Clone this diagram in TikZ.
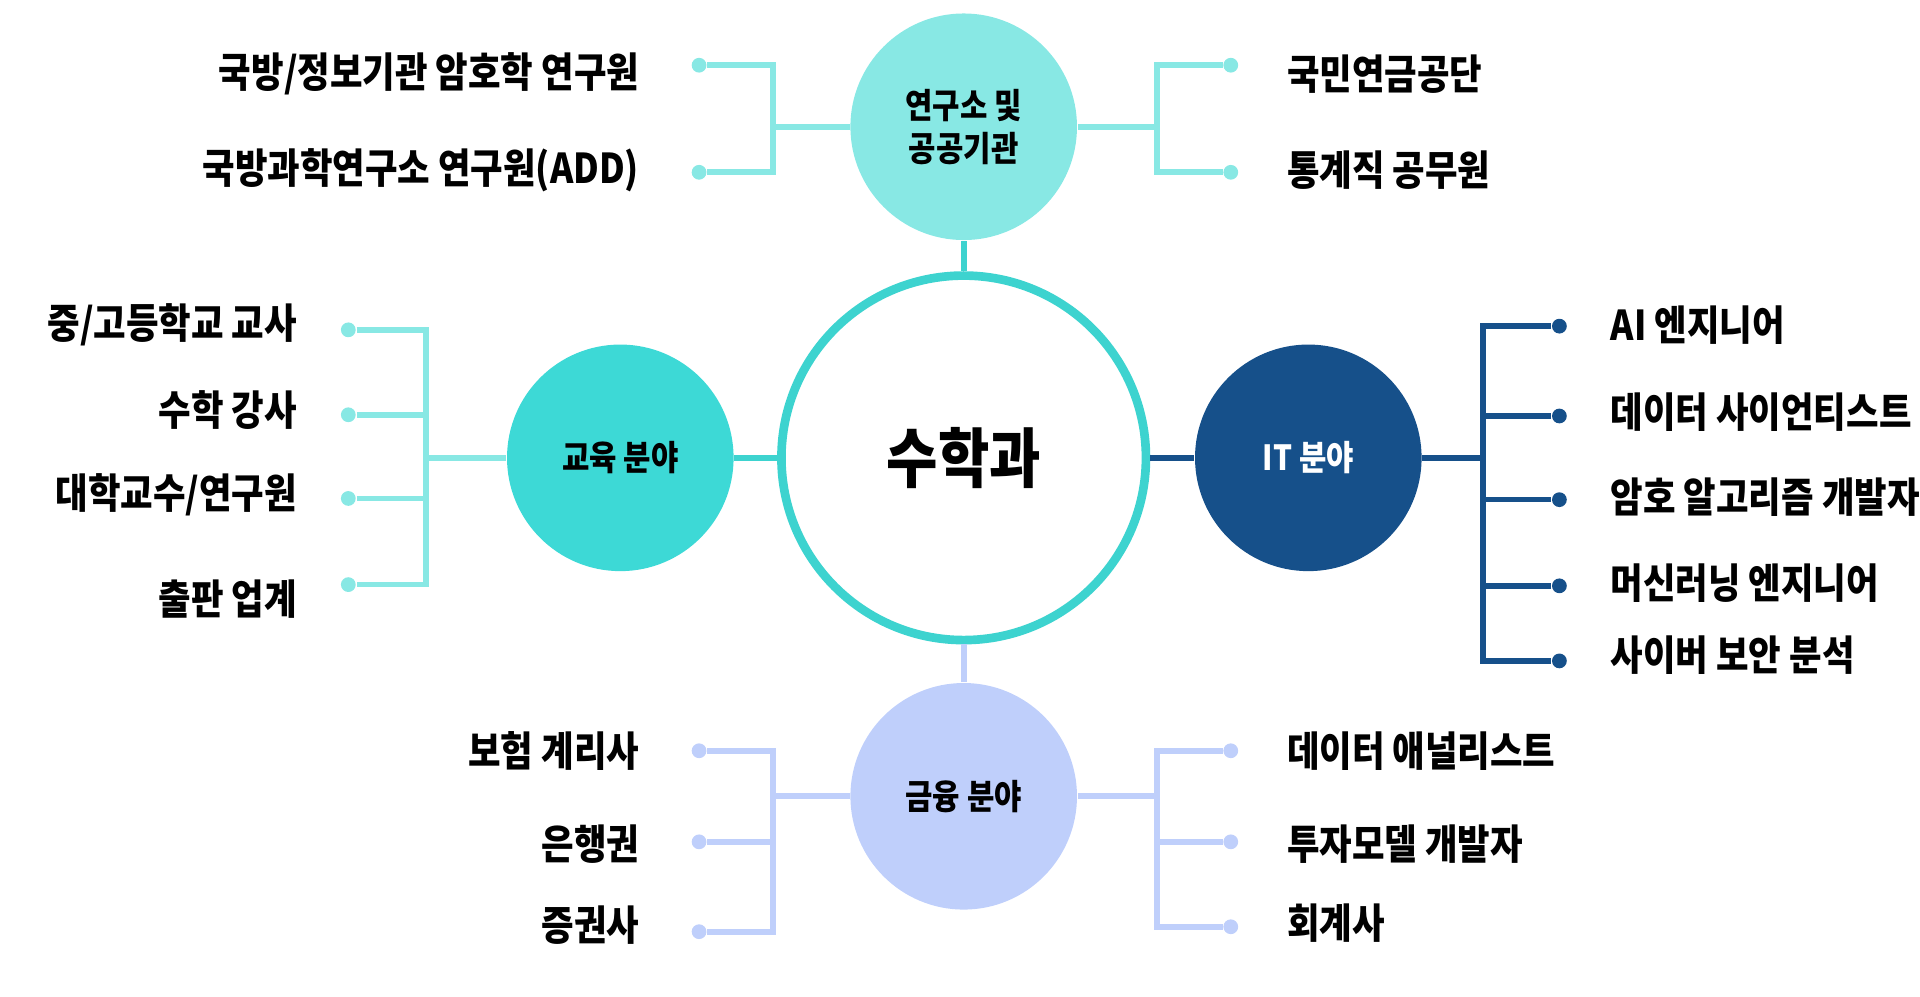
\documentclass[tikz,border=0pt]{standalone}
\usepackage{fontspec}
\setmainfont{Noto Sans CJK KR}[FakeStretch=0.86]
\usepackage{xcolor}
\usetikzlibrary{positioning, calc}

\definecolor{topc}{HTML}{88E8E4}
\definecolor{educ}{HTML}{3DD9D6}
\definecolor{itc}{HTML}{16508A}
\definecolor{finc}{HTML}{BFCFFB}
\definecolor{ring}{HTML}{3DD3CF}

\begin{document}
\begin{tikzpicture}[
    x=0.01cm, y=-0.01cm,
    field/.style={circle, minimum size=1.84cm, inner sep=0pt, font=\bfseries\fontsize{8}{10}\selectfont, align=center},
    dot/.style={circle, fill=#1, minimum size=0.12cm, inner sep=0pt},
    job/.style={font=\bfseries\fontsize{9.5}{11}\selectfont, inner sep=0pt},
    link/.style={line width=1.3pt, draw=#1}
]
\useasboundingbox (0,0) rectangle (1560,810);

% Center
\node[circle, draw=ring, line width=2pt, fill=white, minimum size=2.96cm, font=\bfseries\fontsize{15}{18}\selectfont] (math) at (783,372) {수학과};

% Fields
\node[field, fill=topc] (lab) at (783,103) {연구소 및\\공공기관};
\node[field, fill=educ] (edu) at (504,372) {교육 분야};
\node[field, fill=itc, text=white] (it) at (1063,372) {IT 분야};
\node[field, fill=finc] (fin) at (783,647) {금융 분야};

\draw[link=ring] (lab) -- (math);
\draw[link=ring] (edu) -- (math);
\draw[link=itc] (it) -- (math);
\draw[link=finc] (fin) -- (math);

% Research / public
\coordinate (labL) at (628,103);
\coordinate (labR) at (940,103);
\draw[link=topc] (lab) -- (labL);
\draw[link=topc] (lab) -- (labR);
\node[dot=topc] (d1) at (568,53) {};
\node[dot=topc] (d2) at (568,140) {};
\node[dot=topc] (d3) at (1000,53) {};
\node[dot=topc] (d4) at (1000,140) {};
\draw[link=topc] (d1) -| (labL) |- (d2);
\draw[link=topc] (d3) -| (labR) |- (d4);
\node[job, anchor=east] (j1) at (520,60) {국방/정보기관 암호학 연구원};
\node[job, anchor=east] (j2) at (520,138) {국방과학연구소 연구원(ADD)};
\node[job, anchor=west] (j3) at (1045,60) {국민연금공단};
\node[job, anchor=west] (j4) at (1045,138) {통계직 공무원};

% Education
\coordinate (eduL) at (346,372);
\draw[link=topc] (edu) -- (eduL);
\node[dot=topc] (e1) at (283,268) {};
\node[dot=topc] (e2) at (283,337) {};
\node[dot=topc] (e3) at (283,405) {};
\node[dot=topc] (e4) at (283,475) {};
\draw[link=topc] (e1) -| (eduL) |- (e4);
\draw[link=topc] (e2) -- (e2 -| eduL);
\draw[link=topc] (e3) -- (e3 -| eduL);
\node[job, anchor=east] (t1) at (242,264) {중/고등학교 교사};
\node[job, anchor=east] (t2) at (242,333) {수학 강사};
\node[job, anchor=east] (t3) at (242,402) {대학교수/연구원};
\node[job, anchor=east] (t4) at (242,487) {출판 업계};

% IT
\coordinate (itR) at (1205,372);
\draw[link=itc] (it) -- (itR);
\node[dot=itc] (i1) at (1267,265) {};
\node[dot=itc] (i2) at (1267,338) {};
\node[dot=itc] (i3) at (1267,406) {};
\node[dot=itc] (i4) at (1267,476) {};
\node[dot=itc] (i5) at (1267,537) {};
\draw[link=itc] (i1) -| (itR) |- (i5);
\draw[link=itc] (i2) -- (i2 -| itR);
\draw[link=itc] (i3) -- (i3 -| itR);
\draw[link=itc] (i4) -- (i4 -| itR);
\node[job, anchor=west] (a1) at (1308,264) {AI 엔지니어};
\node[job, anchor=west] (a2) at (1308,335) {데이터 사이언티스트};
\node[job, anchor=west] (a3) at (1308,404) {암호 알고리즘 개발자};
\node[job, anchor=west] (a4) at (1308,474) {머신러닝 엔지니어};
\node[job, anchor=west] (a5) at (1308,532) {사이버 보안 분석};

% Finance
\coordinate (finL) at (628,647);
\coordinate (finR) at (940,647);
\draw[link=finc] (fin) -- (finL);
\draw[link=finc] (fin) -- (finR);
\node[dot=finc] (f1) at (568,610) {};
\node[dot=finc] (f2) at (568,684) {};
\node[dot=finc] (f3) at (568,757) {};
\node[dot=finc] (f4) at (1000,610) {};
\node[dot=finc] (f5) at (1000,684) {};
\node[dot=finc] (f6) at (1000,753) {};
\draw[link=finc] (f1) -| (finL) |- (f3);
\draw[link=finc] (f2) -- (f2 -| finL);
\draw[link=finc] (f4) -| (finR) |- (f6);
\draw[link=finc] (f5) -- (f5 -| finR);
\node[job, anchor=east] (b1) at (520,610) {보험 계리사};
\node[job, anchor=east] (b2) at (520,686) {은행권};
\node[job, anchor=east] (b3) at (520,752) {증권사};
\node[job, anchor=west] (b4) at (1045,610) {데이터 애널리스트};
\node[job, anchor=west] (b5) at (1045,686) {투자모델 개발자};
\node[job, anchor=west] (b6) at (1045,750) {회계사};

\end{tikzpicture}
\end{document}
